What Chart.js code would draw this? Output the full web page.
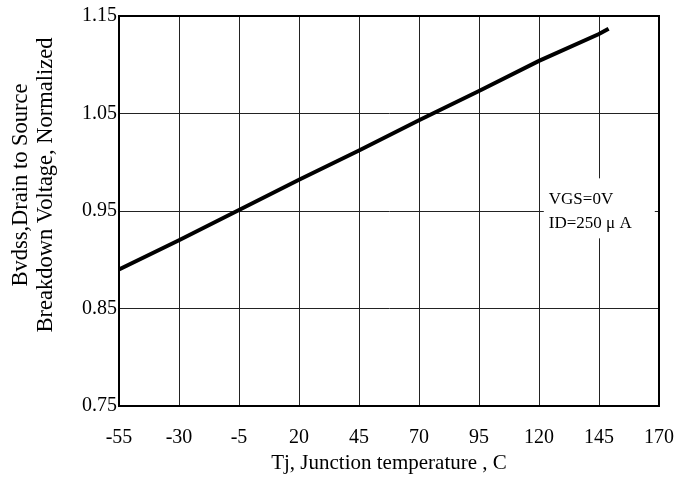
<!DOCTYPE html>
<html>
<head>
<meta charset="utf-8">
<script src="https://cdn.jsdelivr.net/npm/chart.js@4.4.1/dist/chart.umd.min.js"></script>
<style>
  html, body { margin: 0; padding: 0; background: #fff; }
  #wrap { width: 694px; height: 480px; }
</style>
</head>
<body>
<div id="wrap"><canvas id="c" width="694" height="480"></canvas></div>
<script>
// ---- data ----
const temps = [-55, -30, -5, 20, 45, 70, 95, 120, 145, 149];
const bvdss = [0.890, 0.920, 0.951, 0.982, 1.012, 1.043, 1.073, 1.104, 1.1315, 1.137];
const xTicks = [-55, -30, -5, 20, 45, 70, 95, 120, 145, 170];
const yTicks = [0.75, 0.85, 0.95, 1.05, 1.15];
const xTitle = 'Tj, Junction temperature , C';
const yTitle = ['Bvdss,Drain to Source', 'Breakdown Voltage, Normalized'];
const noteLines = ['VGS=0V', 'ID=250 \u03bc A'];

const FONT = '"Liberation Serif", "Times New Roman", serif';

const extras = {
  id: 'extras',
  afterDraw(chart) {
    const ctx = chart.ctx;
    const a = chart.chartArea;
    const xs = chart.scales.x, ys = chart.scales.y;
    ctx.save();
    // frame
    ctx.strokeStyle = '#000';
    ctx.lineWidth = 2;
    ctx.strokeRect(a.left, a.top, a.right - a.left, a.bottom - a.top);
    // annotation box
    const bx = xs.getPixelForValue(122), by = ys.getPixelForValue(0.9835);
    const bw = 111, bh = 60;
    ctx.fillStyle = '#fff';
    ctx.fillRect(bx, by, bw, bh);
    ctx.fillStyle = '#000';
    ctx.font = '17px ' + FONT;
    ctx.textAlign = 'left';
    ctx.textBaseline = 'middle';
    ctx.fillText(noteLines[0], bx + 5, by + 21);
    ctx.fillText(noteLines[1], bx + 5, by + 45);
    // y title
    ctx.font = '22.5px ' + FONT;
    ctx.textAlign = 'center';
    ctx.textBaseline = 'middle';
    ctx.translate(0, 185);
    ctx.rotate(-Math.PI / 2);
    ctx.fillText(yTitle[0], 0, 21);
    ctx.fillText(yTitle[1], 0, 46);
    ctx.restore();
  }
};

new Chart(document.getElementById('c'), {
  type: 'line',
  data: {
    datasets: [{
      data: temps.map((t, i) => ({ x: t, y: bvdss[i] })),
      borderColor: '#000',
      borderWidth: 4,
      pointRadius: 0,
      tension: 0,
      fill: false
    }]
  },
  options: {
    responsive: false,
    animation: false,
    devicePixelRatio: 1,
    layout: { padding: { top: 16, right: 32, bottom: 0, left: 0 } },
    plugins: { legend: { display: false }, tooltip: { enabled: false } },
    scales: {
      x: {
        type: 'linear',
        min: -55, max: 170,
        afterBuildTicks: s => { s.ticks = xTicks.map(v => ({ value: v })); },
        afterFit: s => { s.height = 74; },
        grid: { color: '#222', lineWidth: 1, drawTicks: false },
        border: { color: '#000', width: 2 },
        ticks: { color: '#000', font: { family: FONT, size: 20 }, padding: 20, maxRotation: 0, autoSkip: false },
        title: { display: true, text: xTitle, color: '#000', font: { family: FONT, size: 21 }, padding: { top: 0, bottom: 4 } }
      },
      y: {
        type: 'linear',
        min: 0.75, max: 1.15,
        afterBuildTicks: s => { s.ticks = yTicks.map(v => ({ value: v })); },
        afterFit: s => { s.width = 119; },
        grid: { color: '#222', lineWidth: 1, drawTicks: false },
        border: { color: '#000', width: 2 },
        ticks: { color: '#000', font: { family: FONT, size: 20 }, padding: 2, callback: v => v.toFixed(2) }
      }
    }
  },
  plugins: [extras]
});
</script>
</body>
</html>
